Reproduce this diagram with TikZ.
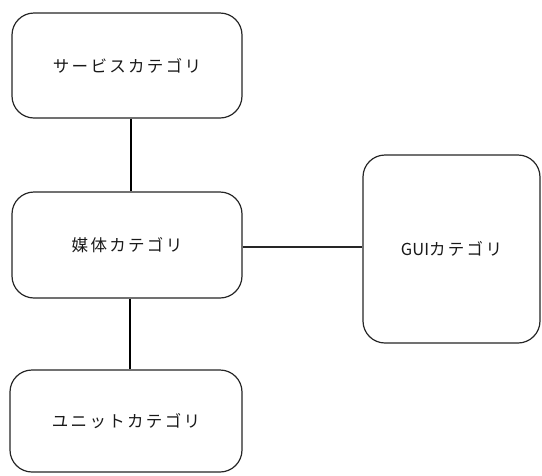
\documentclass[tikz,border=0pt]{standalone}
\usepackage{fontspec}
\newfontfamily\jpfont[LetterSpace=14]{Noto Sans CJK JP}
\newfontfamily\jplatin{Noto Sans CJK JP}
\begin{document}
\begin{tikzpicture}[x=1pt,y=1pt,
  cat/.style={draw=black!85, line width=1.2pt, rounded corners=22pt, fill=white,
    font=\jpfont\fontsize{16.5}{18}\selectfont, text=black!90, inner sep=0pt},
  link/.style={draw=black, line width=2pt},
  hlink/.style={draw=black!85, line width=1.4pt}]
\useasboundingbox (0,0) rectangle (542,-475);
\node[cat, minimum width=230pt, minimum height=105pt] (svc) at (127,-65.5) {サービスカテゴリ};
\node[cat, minimum width=230pt, minimum height=106pt] (med) at (127,-245) {媒体カテゴリ};
\node[cat, minimum width=232pt, minimum height=102pt] (unit) at (126,-421) {ユニットカテゴリ};
\node[cat, minimum width=177pt, minimum height=188pt] (gui) at (451.5,-249) {{\jplatin GUI}カテゴリ};
\draw[link] ([xshift=4pt]svc.south) -- ([xshift=4pt]med.north);
\draw[link] ([xshift=3pt]med.south) -- ([xshift=4pt]unit.north);
\draw[hlink] ([yshift=-2pt]med.east) -- ([yshift=-2pt]med.east -| gui.west);
\end{tikzpicture}
\end{document}
